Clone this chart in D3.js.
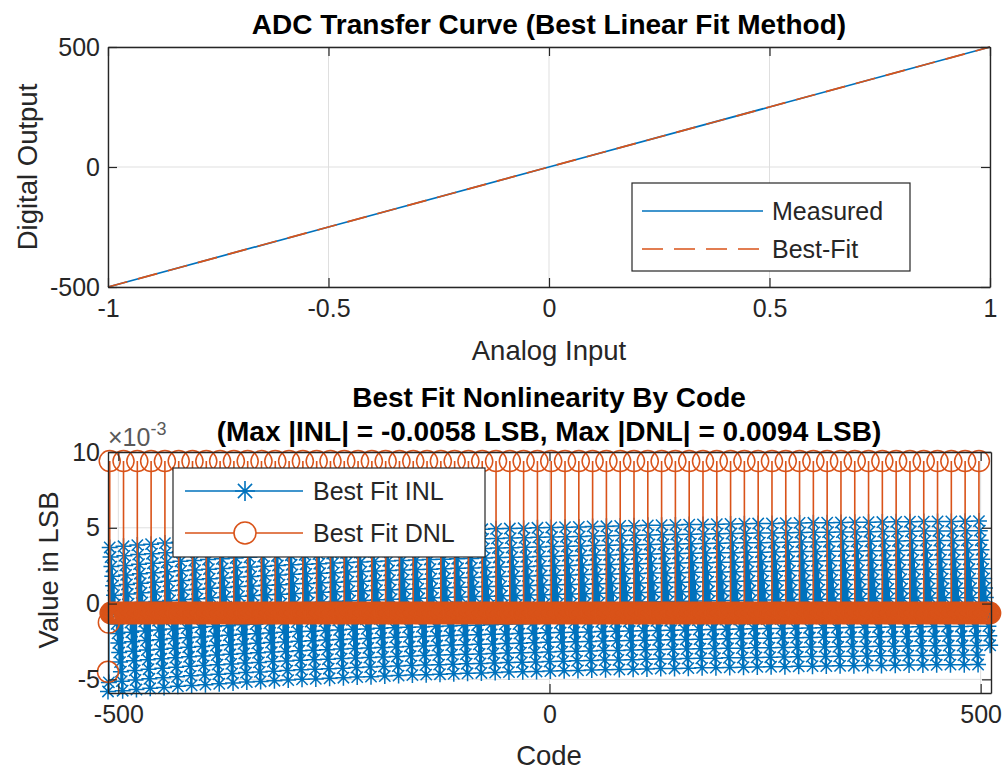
<!DOCTYPE html>
<html>
<head>
<meta charset="utf-8">
<script src="https://cdn.jsdelivr.net/npm/d3@7"></script>
<style>
  body { margin: 0; background: #fff; }
  svg { display: block; }
  text { font-family: "Liberation Sans", Arial, Helvetica, sans-serif; fill: #262626; }
</style>
</head>
<body>
<svg id="chart" width="1008" height="770"></svg>
<script>
// ---- data ----
const analogInput = [-1, -0.5, 0, 0.5, 1];
const measuredOut = [-500, -250, 0, 250, 500];
const bestFitOut = [-500, -250, 0, 250, 500];
const topXTicks = [-1, -0.5, 0, 0.5, 1];
const topYTicks = [-500, 0, 500];

const codeRange = [-512, 511];
// codes where the DNL jumps to +0.0094 LSB
const dnlSpikeCodes = [-510, -494, -478, -462, -446, -430, -414, -398, -382, -366, -350, -334,
  -318, -302, -286, -270, -254, -238, -222, -206, -190, -174, -158, -142, -126, -110, -94, -78,
  -62, -46, -30, -14, 2, 18, 34, 50, 66, 82, 98, 114, 130, 146, 162, 178, 194, 210, 226, 242,
  258, 274, 290, 306, 322, 338, 354, 370, 386, 402, 418, 434, 450, 466, 482, 498];
const dnlSpike = 0.0094;
const dnlBase = -0.00063;
// first two codes before the first spike
const firstCodes = [-512, -511];
const firstDnl = [-0.0045, -0.00125];
const firstInl = [-0.0058, -0.0052];
// INL value at each spike code (x1e-3)
const inlPeakE3 = [3.70, 3.78, 3.86, 3.92, 3.99, 4.05, 4.10, 4.16, 4.21, 4.27, 4.31, 4.36, 4.40,
  4.45, 4.48, 4.52, 4.56, 4.60, 4.63, 4.67, 4.70, 4.73, 4.76, 4.79, 4.82, 4.85, 4.87, 4.90, 4.93,
  4.95, 4.97, 5.00, 5.02, 5.04, 5.06, 5.09, 5.10, 5.12, 5.14, 5.16, 5.17, 5.19, 5.21, 5.22, 5.24,
  5.25, 5.27, 5.28, 5.29, 5.31, 5.32, 5.33, 5.34, 5.35, 5.36, 5.37, 5.38, 5.39, 5.40, 5.41, 5.42,
  5.42, 5.43, 5.44];
const botXTicks = [-500, 0, 500];
const botYTicks = [-0.005, 0, 0.005, 0.01];

const BLUE = "#0072BD", ORANGE = "#D95319", AX = "#262626", GRID = "#dfdfdf";

// per-code series: INL is the running sum of DNL starting from each spike value
const series = [];
for (let c = codeRange[0]; c <= codeRange[1]; c++) {
  const fi = firstCodes.indexOf(c);
  if (fi >= 0) { series.push({ code: c, dnl: firstDnl[fi], inl: firstInl[fi] }); continue; }
  let k = d3.bisectRight(dnlSpikeCodes, c) - 1;
  const j = c - dnlSpikeCodes[k];
  series.push({ code: c, dnl: j === 0 ? dnlSpike : dnlBase, inl: inlPeakE3[k] * 1e-3 + j * dnlBase });
}

const svg = d3.select("#chart");
const fmt = d => String(d);

function frame(g, x, y, xt, yt) {
  // grid
  g.append("g").selectAll("line").data(xt).join("line")
    .attr("x1", d => x(d)).attr("x2", d => x(d))
    .attr("y1", y.range()[0]).attr("y2", y.range()[1])
    .attr("stroke", GRID).attr("stroke-width", 1);
  g.append("g").selectAll("line").data(yt).join("line")
    .attr("y1", d => y(d)).attr("y2", d => y(d))
    .attr("x1", x.range()[0]).attr("x2", x.range()[1])
    .attr("stroke", GRID).attr("stroke-width", 1);
}

function axes(g, x, y, xt, yt, yfmt) {
  const [l, r] = x.range(), [b, t] = y.range();
  const ax = [
    g.append("g").attr("transform", `translate(0,${b})`)
      .call(d3.axisBottom(x).tickValues(xt).tickFormat(fmt).tickSizeInner(-9).tickSizeOuter(0).tickPadding(12)),
    g.append("g").attr("transform", `translate(0,${t})`)
      .call(d3.axisTop(x).tickValues(xt).tickFormat("").tickSizeInner(-9).tickSizeOuter(0)),
    g.append("g").attr("transform", `translate(${l},0)`)
      .call(d3.axisLeft(y).tickValues(yt).tickFormat(yfmt).tickSizeInner(-9).tickSizeOuter(0).tickPadding(8)),
    g.append("g").attr("transform", `translate(${r},0)`)
      .call(d3.axisRight(y).tickValues(yt).tickFormat("").tickSizeInner(-9).tickSizeOuter(0))
  ];
  ax.forEach(a => {
    a.select(".domain").attr("stroke", AX).attr("stroke-width", 1.4);
    a.selectAll(".tick line").attr("stroke", AX).attr("stroke-width", 1.2);
    a.selectAll(".tick text").attr("fill", AX).style("font-size", "25px")
      .style("font-family", '"Liberation Sans", Arial, sans-serif');
  });
}

// ===== top chart =====
const x1 = d3.scaleLinear([-1, 1], [108, 990]);
const y1 = d3.scaleLinear([-500, 500], [287, 47]);
const g1 = svg.append("g");
frame(g1, x1, y1, topXTicks, topYTicks);
const line1 = d3.line().x((d, i) => x1(analogInput[i])).y(d => y1(d));
g1.append("path").attr("d", line1(measuredOut)).attr("fill", "none")
  .attr("stroke", BLUE).attr("stroke-width", 1.7);
g1.append("path").attr("d", line1(bestFitOut)).attr("fill", "none")
  .attr("stroke", ORANGE).attr("stroke-width", 1.7).attr("stroke-dasharray", "20 11");
axes(g1, x1, y1, topXTicks, topYTicks, fmt);

g1.append("text").attr("x", 549).attr("y", 34).attr("text-anchor", "middle")
  .style("font-size", "28px").style("font-weight", "bold").style("fill", "#000")
  .text("ADC Transfer Curve (Best Linear Fit Method)");
g1.append("text").attr("x", 549).attr("y", 360).attr("text-anchor", "middle")
  .style("font-size", "27.5px").text("Analog Input");
g1.append("text").attr("transform", "translate(37,167) rotate(-90)").attr("text-anchor", "middle")
  .style("font-size", "27.5px").text("Digital Output");

// top legend
const lg1 = g1.append("g");
lg1.append("rect").attr("x", 632).attr("y", 183).attr("width", 278).attr("height", 88)
  .attr("fill", "#fff").attr("stroke", AX).attr("stroke-width", 1.2);
lg1.append("line").attr("x1", 642).attr("x2", 763).attr("y1", 211).attr("y2", 211)
  .attr("stroke", BLUE).attr("stroke-width", 1.6);
lg1.append("line").attr("x1", 642).attr("x2", 763).attr("y1", 249).attr("y2", 249)
  .attr("stroke", ORANGE).attr("stroke-width", 1.6).attr("stroke-dasharray", "21 11");
lg1.append("text").attr("x", 772).attr("y", 220).style("font-size", "25px").text("Measured");
lg1.append("text").attr("x", 772).attr("y", 258).style("font-size", "25px").text("Best-Fit");

// ===== bottom chart =====
const x2 = d3.scaleLinear([-512, 512], [108, 991]);
const y2 = d3.scaleLinear([-0.0059, 0.01], [693, 452]);
const g2 = svg.append("g");
frame(g2, x2, y2, botXTicks, botYTicks);

svg.append("clipPath").attr("id", "clip2").append("rect")
  .attr("x", 108).attr("y", 452).attr("width", 883).attr("height", 241);

function asterisk(p, cx, cy, s) {
  const d = s * 0.7071;
  p.moveTo(cx - s, cy); p.lineTo(cx + s, cy);
  p.moveTo(cx, cy - s); p.lineTo(cx, cy + s);
  p.moveTo(cx - d, cy - d); p.lineTo(cx + d, cy + d);
  p.moveTo(cx - d, cy + d); p.lineTo(cx + d, cy - d);
}

// INL stems
const inlStem = d3.path();
series.forEach(d => { inlStem.moveTo(x2(d.code), y2(0)); inlStem.lineTo(x2(d.code), y2(d.inl)); });
g2.append("path").attr("d", inlStem.toString()).attr("clip-path", "url(#clip2)")
  .attr("stroke", BLUE).attr("stroke-width", 1.5).attr("fill", "none");
const inlMark = d3.path();
series.forEach(d => asterisk(inlMark, x2(d.code), y2(d.inl), 8));
g2.append("path").attr("d", inlMark.toString())
  .attr("stroke", BLUE).attr("stroke-width", 1.5).attr("fill", "none");

// DNL stems
const dnlStem = d3.path();
series.forEach(d => { dnlStem.moveTo(x2(d.code), y2(0)); dnlStem.lineTo(x2(d.code), y2(d.dnl)); });
g2.append("path").attr("d", dnlStem.toString()).attr("clip-path", "url(#clip2)")
  .attr("stroke", ORANGE).attr("stroke-width", 1.6).attr("fill", "none");
g2.append("g").selectAll("circle").data(series).join("circle")
  .attr("cx", d => x2(d.code)).attr("cy", d => y2(d.dnl)).attr("r", 10.5)
  .attr("fill", "none").attr("stroke", ORANGE).attr("stroke-width", 1.5);

axes(g2, x2, y2, botXTicks, botYTicks, d => String(Math.round(d * 1000)));

g2.append("text").attr("x", 549).attr("y", 407).attr("text-anchor", "middle")
  .style("font-size", "28px").style("font-weight", "bold").style("fill", "#000")
  .text("Best Fit Nonlinearity By Code");
g2.append("text").attr("x", 549).attr("y", 441).attr("text-anchor", "middle")
  .style("font-size", "28px").style("font-weight", "bold").style("fill", "#000")
  .text("(Max |INL| = -0.0058 LSB, Max |DNL| = 0.0094 LSB)");
const ex = g2.append("text").attr("x", 108).attr("y", 446).style("font-size", "25px").style("fill", "#595959");
ex.append("tspan").text("\u00d710");
ex.append("tspan").attr("dy", -11).style("font-size", "18px").text("-3");
g2.append("text").attr("x", 549).attr("y", 765).attr("text-anchor", "middle")
  .style("font-size", "27.5px").text("Code");
g2.append("text").attr("transform", "translate(58,570) rotate(-90)").attr("text-anchor", "middle")
  .style("font-size", "27.5px").text("Value in LSB");

// bottom legend
const lg2 = g2.append("g");
lg2.append("rect").attr("x", 173).attr("y", 468).attr("width", 312).attr("height", 89)
  .attr("fill", "#fff").attr("stroke", AX).attr("stroke-width", 1.2);
lg2.append("line").attr("x1", 185).attr("x2", 303).attr("y1", 491).attr("y2", 491)
  .attr("stroke", BLUE).attr("stroke-width", 1.6);
const lgStar = d3.path(); asterisk(lgStar, 245, 491, 10);
lg2.append("path").attr("d", lgStar.toString()).attr("stroke", BLUE).attr("stroke-width", 1.6);
lg2.append("line").attr("x1", 185).attr("x2", 303).attr("y1", 533).attr("y2", 533)
  .attr("stroke", ORANGE).attr("stroke-width", 1.6);
lg2.append("circle").attr("cx", 245).attr("cy", 533).attr("r", 11)
  .attr("fill", "#fff").attr("stroke", ORANGE).attr("stroke-width", 1.6);
lg2.append("text").attr("x", 313).attr("y", 500).style("font-size", "25px").text("Best Fit INL");
lg2.append("text").attr("x", 313).attr("y", 542).style("font-size", "25px").text("Best Fit DNL");
</script>
</body>
</html>
